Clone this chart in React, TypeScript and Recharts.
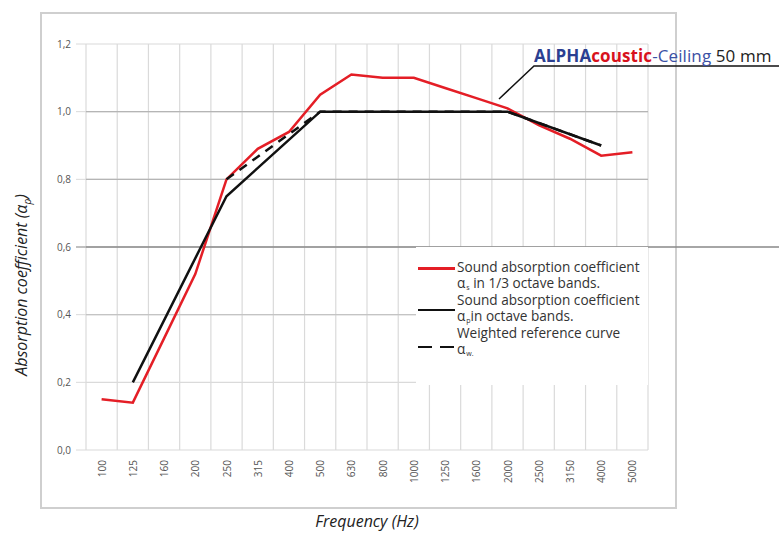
import { LineChart, Line, XAxis, YAxis, CartesianGrid, ReferenceLine, Legend, Customized } from 'recharts'

const FREQUENCIES = ['100', '125', '160', '200', '250', '315', '400', '500', '630', '800', '1000', '1250', '1600', '2000', '2500', '3150', '4000', '5000']
// alpha_s, 1/3 octave bands
const THIRD_OCTAVE = [0.15, 0.14, 0.33, 0.52, 0.80, 0.89, 0.94, 1.05, 1.11, 1.10, 1.10, 1.07, 1.04, 1.01, 0.96, 0.92, 0.87, 0.88]
// alpha_p, octave bands
const OCTAVE = [null, 0.20, null, null, 0.75, null, null, 1.0, null, null, 1.0, null, null, 1.0, null, null, 0.90, null]
// weighted reference curve alpha_w
const REFERENCE = [null, null, null, null, 0.80, null, null, 1.0, null, null, 1.0, null, null, 1.0, null, null, 0.90, null]
const Y_TICKS = [0, 0.2, 0.4, 0.6, 0.8, 1.0, 1.2]

const RED = '#e41e26'
const FONT = '"Open Sans", sans-serif'
const GRID = '#dadada'

const data = FREQUENCIES.map((f, i) => ({
  freq: f,
  third: THIRD_OCTAVE[i],
  octave: OCTAVE[i],
  ref: REFERENCE[i],
}))

const Sub = ({ children }: any) => (
  <span style={{ fontSize: 7, position: 'relative', top: 2, marginLeft: 1, lineHeight: 0 }}>{children}</span>
)

function LegendBox() {
  const txt = { fontFamily: FONT, fontSize: 13.6, color: '#333', lineHeight: '16.4px' }
  return (
    <div style={{ position: 'relative', width: 232, height: 138, background: '#fff' }}>
      <div style={{ position: 'absolute', left: 2, top: 20, width: 37, height: 3, background: RED }} />
      <div style={{ position: 'absolute', left: 2, top: 62, width: 37, height: 2, background: '#111' }} />
      <div style={{ position: 'absolute', left: 2, top: 99, width: 14, height: 2, background: '#111' }} />
      <div style={{ position: 'absolute', left: 24, top: 99, width: 14, height: 2, background: '#111' }} />
      <div style={{ position: 'absolute', left: 41, top: 12, ...txt, whiteSpace: 'nowrap' }}>
        <div>Sound absorption coefficient</div>
        <div>α<Sub>s</Sub> in 1/3 octave bands.</div>
        <div>Sound absorption coefficient</div>
        <div>α<Sub>p</Sub>in octave bands.</div>
        <div>Weighted reference curve</div>
        <div>α<Sub>w.</Sub></div>
      </div>
    </div>
  )
}

function Annotation() {
  return (
    <g>
      <polyline points="499,99 534,66 779,66" fill="none" stroke="#111" strokeWidth={1.5} />
      <text x={534} y={62} fontFamily={FONT} fontSize={17} letterSpacing={0.1}>
        <tspan fill="#2b3f91" fontWeight={700}>ALPHA</tspan>
        <tspan fill="#d8121c" fontWeight={700}>coustic</tspan>
        <tspan fill="#3b50a5">-Ceiling</tspan>
        <tspan fill="#222"> 50 mm</tspan>
      </text>
    </g>
  )
}

function AxisTitles() {
  return (
    <g fontFamily={FONT} fontSize={16} fontStyle="italic" fill="#222">
      <text x={27} y={285} transform="rotate(-90, 27, 285)" textAnchor="middle">
        Absorption coefficient (α<tspan fontSize={10} dy={4}>p</tspan><tspan dy={-4}>)</tspan>
      </text>
      <text x={367} y={527} textAnchor="middle">Frequency (Hz)</text>
    </g>
  )
}

const XTick = ({ x, y, payload }: any) => (
  <text x={x} y={y + 2} transform={`rotate(-90, ${x}, ${y + 2})`} textAnchor="end" dominantBaseline="central" fontFamily={FONT} fontSize={10} fill="#555">
    {payload.value}
  </text>
)

export default function App() {
  return (
    <div style={{ position: 'fixed', left: 0, top: 0, width: 779, height: 533, overflow: 'hidden', background: '#fff' }}>
      <div style={{ position: 'absolute', left: 40, top: 12, width: 633, height: 493, border: '2px solid #cfcfcf' }} />
      <LineChart width={779} height={533} data={data} margin={{ top: 44, right: 131, left: 0, bottom: 0 }} style={{ position: 'absolute', left: 0, top: 0 }}>
        <CartesianGrid
          stroke={GRID}
          strokeWidth={1.2}
          verticalCoordinatesGenerator={({ offset }: any) =>
            FREQUENCIES.map((_, i) => offset.left + (i * offset.width) / FREQUENCIES.length).concat(offset.left + offset.width)
          }
        />
        <XAxis dataKey="freq" scale="band" height={83} axisLine={false} tickLine={false} tick={<XTick />} interval={0} />
        <YAxis width={86} domain={[0, 1.2]} ticks={Y_TICKS} axisLine={false} tickSize={10} tickMargin={5} tickLine={{ stroke: GRID }}
          tickFormatter={(v: number) => v.toFixed(1).replace('.', ',')}
          tick={{ fontFamily: FONT, fontSize: 10, fill: '#555' }} />
        <ReferenceLine y={1.0} stroke="#b5b5b5" strokeWidth={1.2} />
        <ReferenceLine y={0.8} stroke="#b5b5b5" strokeWidth={1.2} />
        <ReferenceLine y={0.4} stroke="#c4c4c4" strokeWidth={1.2} />
        <ReferenceLine y={0.6} stroke="#888" strokeWidth={1.5}
          shape={(p: any) => <line x1={p.x1 - 10} y1={p.y1} x2={779} y2={p.y2} stroke="#888" strokeWidth={1.5} />} />
        <Legend layout="horizontal" verticalAlign="middle" align="center" content={<LegendBox />}
          wrapperStyle={{ position: 'absolute', left: 416, top: 247, width: 232, height: 138 }} />
        <Line type="linear" dataKey="third" stroke={RED} strokeWidth={2.5} dot={false} isAnimationActive={false} />
        <Line type="linear" dataKey="octave" stroke="#111" strokeWidth={2.5} dot={false} connectNulls isAnimationActive={false} />
        <Line type="linear" dataKey="ref" stroke="#111" strokeWidth={2.5} strokeDasharray="9 7" dot={false} connectNulls isAnimationActive={false} />
        <Customized component={<AxisTitles />} />
        <Customized component={<Annotation />} />
      </LineChart>
    </div>
  )
}
